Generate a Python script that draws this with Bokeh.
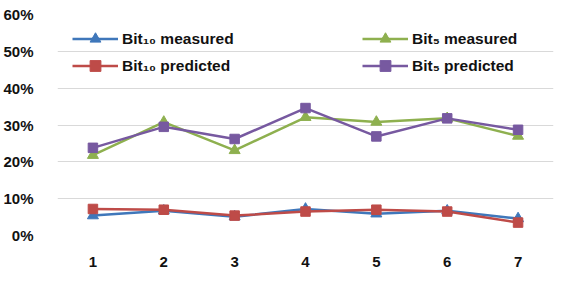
from bokeh.plotting import figure
from bokeh.models import Legend, LegendItem, FixedTicker, NumeralTickFormatter, Range1d
from bokeh.embed import file_html
from bokeh.resources import INLINE

runs = [1, 2, 3, 4, 5, 6, 7]
bit10_measured = [0.054, 0.067, 0.051, 0.072, 0.059, 0.067, 0.046]
bit10_predicted = [0.072, 0.070, 0.054, 0.065, 0.070, 0.065, 0.035]
bit5_measured = [0.218, 0.308, 0.231, 0.321, 0.308, 0.318, 0.270]
bit5_predicted = [0.238, 0.295, 0.262, 0.346, 0.269, 0.318, 0.287]
y_ticks = [0, 0.1, 0.2, 0.3, 0.4, 0.5, 0.6]

BLUE = "#3F77BA"
RED = "#BE4B48"
GREEN = "#8EB04F"
PURPLE = "#7759A0"
FONT = "Liberation Sans"

p = figure(width=566, height=278, output_backend="svg", toolbar_location=None,
           x_range=Range1d(0.5, 7.5), y_range=Range1d(0, 0.6),
           min_border_left=54, min_border_right=13, min_border_top=14, min_border_bottom=43)
p.outline_line_color = None
p.background_fill_color = "white"
p.border_fill_color = "white"

p.xgrid.grid_line_color = None
p.ygrid.grid_line_color = "#D9D9D9"
p.ygrid.grid_line_width = 1
p.ygrid.ticker = FixedTicker(ticks=y_ticks)

p.yaxis.ticker = FixedTicker(ticks=y_ticks)
p.yaxis.formatter = NumeralTickFormatter(format="0%")
p.xaxis.ticker = FixedTicker(ticks=runs)
for ax in (p.xaxis, p.yaxis):
    ax.axis_line_color = None
    ax.major_tick_line_color = None
    ax.minor_tick_line_color = None
    ax.major_label_text_font = FONT
    ax.major_label_text_font_style = "bold"
    ax.major_label_text_font_size = "15px"
    ax.major_label_text_color = "#111111"
p.yaxis.major_label_standoff = 18
p.xaxis.major_label_standoff = 15

def series(vals, color, marker, size):
    l = p.line(runs, vals, line_color=color, line_width=2.5)
    s = p.scatter(runs, vals, marker=marker, size=size, fill_color=color, line_color=color)
    return [l, s]

r10m = series(bit10_measured, BLUE, "triangle", 11)
r10p = series(bit10_predicted, RED, "square", 9.5)
r5m = series(bit5_measured, GREEN, "triangle", 11)
r5p = series(bit5_predicted, PURPLE, "square", 9.5)

def make_legend(items, loc):
    lg = Legend(items=items, location=loc, orientation="vertical",
                glyph_width=46, glyph_height=27, spacing=0, padding=0, margin=0,
                label_standoff=4, label_text_font=FONT, label_text_font_style="bold",
                label_text_font_size="15.5px", label_text_color="#111111",
                border_line_alpha=0, background_fill_alpha=0, label_height=27)
    p.add_layout(lg)

make_legend([LegendItem(label="Bit\u2081\u2080 measured", renderers=r10m),
             LegendItem(label="Bit\u2081\u2080 predicted", renderers=r10p)], (15, 156))
make_legend([LegendItem(label="Bit\u2085 measured", renderers=r5m),
             LegendItem(label="Bit\u2085 predicted", renderers=r5p)], (305, 156))

open("out.html", "w").write(file_html(p, INLINE))
